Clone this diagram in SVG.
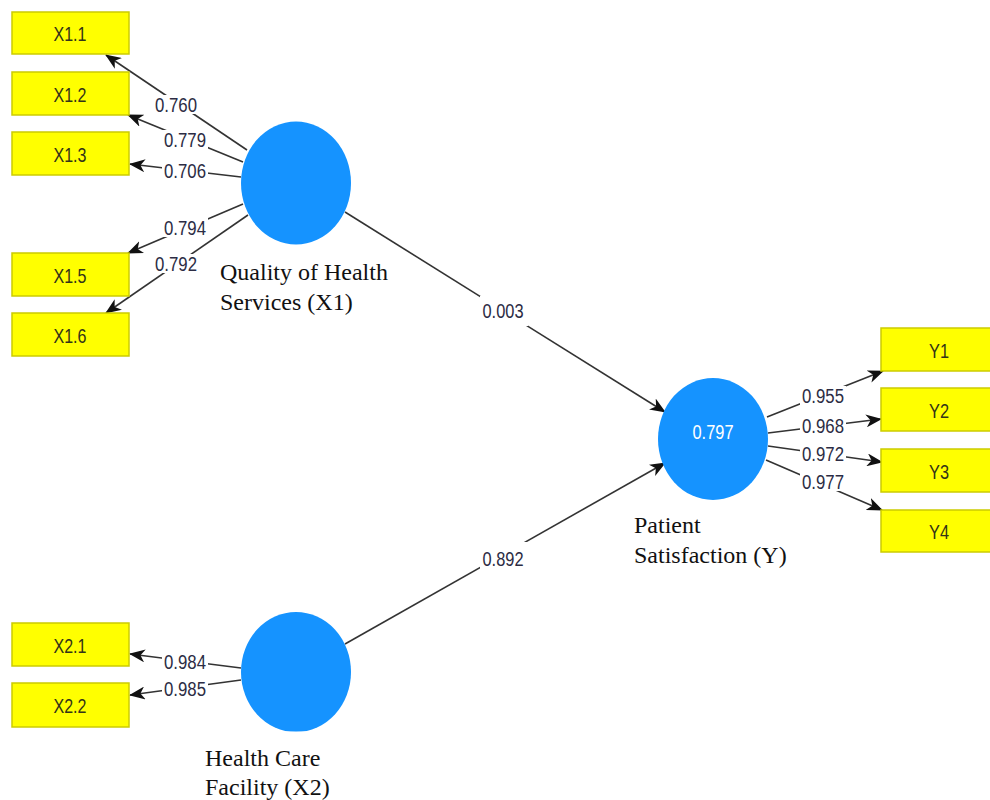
<svg xmlns="http://www.w3.org/2000/svg" width="990" height="800" viewBox="0 0 990 800">
<defs>
<style>
.bg{fill:#ffffff}
.ind rect{fill:#ffff00;stroke:#cccc00;stroke-width:1.5}
.ind text{font-family:"Liberation Sans",Arial,sans-serif;font-size:21px;fill:#333318;text-anchor:middle}
.lv ellipse{fill:#1593ff}
.lvname{font-family:"Liberation Serif","Times New Roman",serif;font-size:24px;fill:#111111}
.lvval{font-family:"Liberation Sans",Arial,sans-serif;font-size:20px;fill:#ffffff;text-anchor:middle}
.conn line{stroke:#333333;stroke-width:1.6;fill:none;marker-end:url(#arr)}
.lbl rect{fill:#ffffff}
.lbl text{font-family:"Liberation Sans",Arial,sans-serif;font-size:20px;fill:#2c2c44;text-anchor:middle}
</style>
<marker id="arr" viewBox="0 0 16 13" refX="15" refY="6.5" markerWidth="16" markerHeight="13" markerUnits="userSpaceOnUse" orient="auto">
<path d="M0,0 L16,6.5 L0,13 L4.5,6.5 z" fill="#111111"/>
</marker>
<clipPath id="clipX2"><rect x="230" y="600" width="140" height="131.5"/></clipPath>
</defs>
<rect class="bg" x="0" y="0" width="990" height="800"/>

<g id="connectors" class="conn">
<line x1="247" y1="150" x2="106" y2="55"/>
<line x1="243" y1="162" x2="128" y2="115"/>
<line x1="241" y1="177" x2="130" y2="164"/>
<line x1="243" y1="204" x2="128" y2="253"/>
<line x1="248" y1="215" x2="106" y2="313"/>
<line x1="241" y1="668" x2="130" y2="654"/>
<line x1="241" y1="680" x2="130" y2="695"/>
<line x1="345" y1="212" x2="665" y2="412"/>
<line x1="345" y1="644" x2="665" y2="463"/>
<line x1="767" y1="417" x2="883" y2="371"/>
<line x1="768" y1="433" x2="881" y2="419"/>
<line x1="768" y1="446" x2="882" y2="462"/>
<line x1="766" y1="460" x2="882" y2="510"/>
<g class="lbl">
<rect x="153" y="95" width="46" height="19"/><text x="176" y="111.5" textLength="42" lengthAdjust="spacingAndGlyphs">0.760</text>
<rect x="162" y="130" width="46" height="19"/><text x="185" y="147" textLength="42" lengthAdjust="spacingAndGlyphs">0.779</text>
<rect x="162" y="161" width="46" height="19"/><text x="185" y="177.5" textLength="42" lengthAdjust="spacingAndGlyphs">0.706</text>
<rect x="162" y="218" width="46" height="19"/><text x="185" y="234.5" textLength="42" lengthAdjust="spacingAndGlyphs">0.794</text>
<rect x="153" y="254" width="46" height="19"/><text x="176" y="270.5" textLength="42" lengthAdjust="spacingAndGlyphs">0.792</text>
<rect x="162" y="652" width="46" height="19"/><text x="185" y="668.5" textLength="42" lengthAdjust="spacingAndGlyphs">0.984</text>
<rect x="162" y="679" width="46" height="19"/><text x="185" y="695.5" textLength="42" lengthAdjust="spacingAndGlyphs">0.985</text>
<rect x="480" y="296" width="48" height="30"/><text x="503" y="318" textLength="41" lengthAdjust="spacingAndGlyphs">0.003</text>
<rect x="480" y="542" width="48" height="32"/><text x="503" y="566" textLength="41" lengthAdjust="spacingAndGlyphs">0.892</text>
<rect x="800" y="386" width="46" height="19"/><text x="823" y="402.5" textLength="42" lengthAdjust="spacingAndGlyphs">0.955</text>
<rect x="800" y="416" width="46" height="19"/><text x="823" y="432.5" textLength="42" lengthAdjust="spacingAndGlyphs">0.968</text>
<rect x="800" y="444" width="46" height="19"/><text x="823" y="460.5" textLength="42" lengthAdjust="spacingAndGlyphs">0.972</text>
<rect x="800" y="472" width="46" height="19"/><text x="823" y="488.5" textLength="42" lengthAdjust="spacingAndGlyphs">0.977</text>
</g>
</g>

<g id="X1.1" class="ind"><rect x="12" y="12" width="117" height="42"/><text x="70" y="40.5" textLength="33" lengthAdjust="spacingAndGlyphs">X1.1</text></g>
<g id="X1.2" class="ind"><rect x="12" y="72" width="117" height="43"/><text x="70" y="101.5" textLength="33" lengthAdjust="spacingAndGlyphs">X1.2</text></g>
<g id="X1.3" class="ind"><rect x="12" y="132" width="117" height="43"/><text x="70" y="161.5" textLength="33" lengthAdjust="spacingAndGlyphs">X1.3</text></g>
<g id="X1.5" class="ind"><rect x="12" y="253" width="117" height="43"/><text x="70" y="282.5" textLength="33" lengthAdjust="spacingAndGlyphs">X1.5</text></g>
<g id="X1.6" class="ind"><rect x="12" y="313" width="117" height="43"/><text x="70" y="342.5" textLength="33" lengthAdjust="spacingAndGlyphs">X1.6</text></g>
<g id="X2.1" class="ind"><rect x="12" y="623" width="117" height="43"/><text x="70" y="652.5" textLength="33" lengthAdjust="spacingAndGlyphs">X2.1</text></g>
<g id="X2.2" class="ind"><rect x="12" y="683" width="117" height="44"/><text x="70" y="712.5" textLength="33" lengthAdjust="spacingAndGlyphs">X2.2</text></g>
<g id="Y1" class="ind"><rect x="881" y="328" width="117" height="43"/><text x="939" y="357.5" textLength="20" lengthAdjust="spacingAndGlyphs">Y1</text></g>
<g id="Y2" class="ind"><rect x="881" y="388" width="117" height="43"/><text x="939" y="417.5" textLength="20" lengthAdjust="spacingAndGlyphs">Y2</text></g>
<g id="Y3" class="ind"><rect x="881" y="449" width="117" height="43"/><text x="939" y="478.5" textLength="20" lengthAdjust="spacingAndGlyphs">Y3</text></g>
<g id="Y4" class="ind"><rect x="881" y="510" width="117" height="42"/><text x="939" y="538.5" textLength="20" lengthAdjust="spacingAndGlyphs">Y4</text></g>

<g id="X1" class="lv">
<ellipse cx="296" cy="183" rx="55" ry="61.5"/>
<text class="lvname" x="220" y="280">Quality of Health</text>
<text class="lvname" x="220" y="310">Services (X1)</text>
</g>
<g id="X2" class="lv">
<ellipse cx="296" cy="672" rx="55" ry="60" clip-path="url(#clipX2)"/>
<text class="lvname" x="205" y="766">Health Care</text>
<text class="lvname" x="205" y="795">Facility (X2)</text>
</g>
<g id="Y" class="lv">
<ellipse cx="713" cy="439" rx="55" ry="61"/>
<text class="lvval" x="713" y="438.5" textLength="41" lengthAdjust="spacingAndGlyphs">0.797</text>
<text class="lvname" x="634" y="533">Patient</text>
<text class="lvname" x="634" y="563">Satisfaction (Y)</text>
</g>
</svg>
